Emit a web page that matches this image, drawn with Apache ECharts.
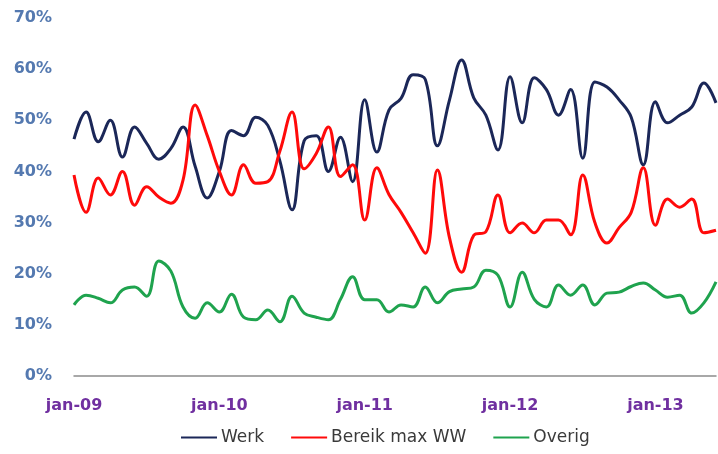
<!DOCTYPE html>
<html>
<head>
<meta charset="utf-8">
<script src="https://cdn.jsdelivr.net/npm/echarts@6/dist/echarts.min.js"></script>
<style>
  html, body { margin: 0; padding: 0; background: #ffffff; }
  #chart { width: 718px; height: 454px; }
</style>
</head>
<body>
<div id="chart"></div>
<script>
// Monthly shares (%) from jan-09 onwards
const months = [];
const monthNames = ['jan','feb','mrt','apr','mei','jun','jul','aug','sep','okt','nov','dec'];
for (let y = 9; y <= 13; y++) {
  for (let m = 0; m < 12; m++) {
    months.push(monthNames[m] + '-' + String(y).padStart(2, '0'));
  }
}
const categories = months.slice(0, 54);

const werk = [
  46.3, 51.6, 45.8, 50.0, 42.8, 48.7, 45.5, 42.4, 44.5, 48.7,
  41.0, 34.8, 40.0, 48.0, 47.0, 50.6, 49.0, 42.0, 32.5, 46.0,
  47.0, 40.0, 46.7, 38.0, 54.0, 43.8, 52.0, 54.3, 58.9, 58.0,
  45.0, 54.0, 61.8, 54.4, 51.0, 44.2, 58.5, 49.5, 58.3, 56.0,
  51.0, 56.0, 42.6, 57.5, 56.5, 54.0, 50.6, 41.3, 53.6, 49.5,
  51.0, 52.6, 57.3, 53.4
];

const bereikMaxWW = [
  39.3, 32.0, 38.7, 35.4, 40.0, 33.4, 37.0, 35.0, 33.8, 38.3,
  53.0, 47.0, 40.0, 35.4, 41.3, 37.7, 38.0, 44.0, 51.6, 40.5,
  43.5, 48.7, 39.0, 41.3, 30.5, 40.7, 35.5, 32.0, 28.0, 24.0,
  40.3, 27.0, 20.3, 27.5, 28.2, 35.4, 28.0, 29.9, 28.0, 30.5,
  30.5, 27.6, 39.3, 30.0, 26.0, 29.0, 32.0, 40.7, 29.5, 34.6,
  33.0, 34.6, 28.0, 28.5
];

const overig = [
  13.9, 15.8, 15.2, 14.3, 16.8, 17.4, 15.6, 22.5, 20.5, 13.5,
  11.3, 14.3, 12.5, 16.0, 11.5, 11.0, 12.9, 10.6, 15.6, 12.3,
  11.5, 11.0, 15.0, 19.4, 14.9, 14.9, 12.5, 13.9, 13.5, 17.4,
  14.3, 16.5, 17.0, 17.4, 20.7, 19.7, 13.5, 20.3, 15.0, 13.5,
  17.8, 15.8, 17.8, 13.9, 16.2, 16.4, 17.5, 18.2, 16.8, 15.4,
  15.8, 12.3, 14.3, 18.4
];

const seriesNames = ['Werk', 'Bereik max WW', 'Overig'];
const seriesColors = ['#1b2758', '#ff0a0a', '#1fa34e'];
const seriesData = [werk, bereikMaxWW, overig];

const chart = echarts.init(document.getElementById('chart'), null, { renderer: 'canvas' });

chart.setOption({
  animation: false,
  backgroundColor: '#ffffff',
  grid: { left: 74, right: 2, top: 18, bottom: 78, containLabel: false },
  legend: {
    data: seriesNames,
    left: 176,
    top: 424,
    icon: 'rect',
    itemWidth: 36,
    itemHeight: 2,
    itemGap: 27,
    textStyle: { fontFamily: 'DejaVu Sans', fontSize: 17, color: '#3a3a3a', padding: [0, 0, 0, -1] }
  },
  xAxis: {
    type: 'category',
    data: categories,
    boundaryGap: false,
    axisLine: { show: true, lineStyle: { color: '#8c8c8c', width: 1.5 } },
    axisTick: { show: false },
    axisLabel: {
      interval: (idx) => idx % 12 === 0,
      margin: 22,
      fontFamily: 'DejaVu Sans',
      fontSize: 16,
      fontWeight: 'bold',
      color: '#7030a0'
    },
    splitLine: { show: false }
  },
  yAxis: {
    type: 'value',
    min: 0,
    max: 70,
    interval: 10,
    axisLine: { show: false },
    axisTick: { show: false },
    splitLine: { show: false },
    axisLabel: {
      formatter: '{value}%',
      margin: 22,
      fontFamily: 'DejaVu Sans',
      fontSize: 16,
      fontWeight: 'bold',
      color: '#5479b0'
    }
  },
  series: seriesNames.map((name, i) => ({
    name: name,
    type: 'line',
    data: seriesData[i],
    smooth: 0.4,
    symbol: 'none',
    lineStyle: { color: seriesColors[i], width: 3 },
    itemStyle: { color: seriesColors[i] }
  }))
});
</script>
</body>
</html>
